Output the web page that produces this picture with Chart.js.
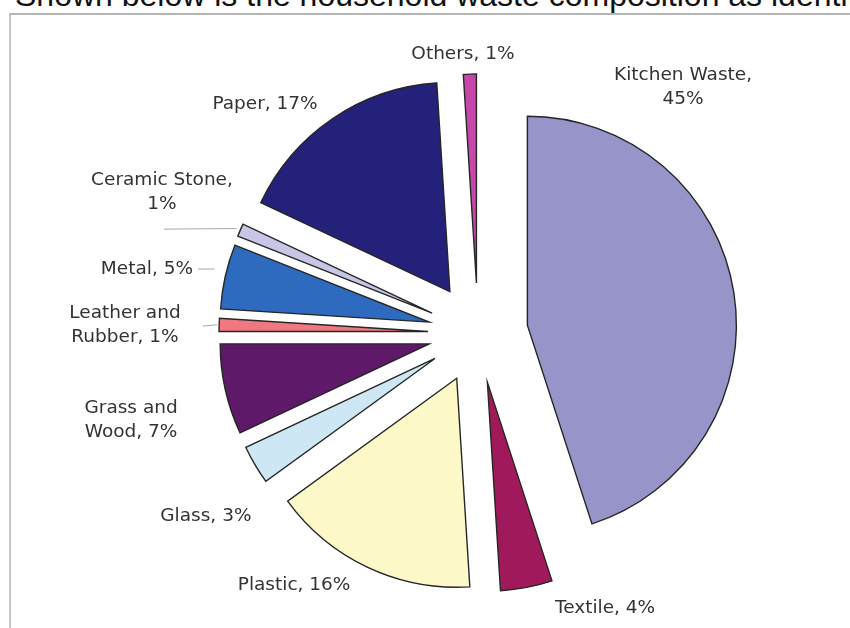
<!DOCTYPE html>
<html>
<head>
<meta charset="utf-8">
<script src="https://cdn.jsdelivr.net/npm/chart.js@4/dist/chart.umd.min.js"></script>
<style>
html,body{margin:0;padding:0;background:#fff;}
#wrap{position:relative;width:850px;height:628px;overflow:hidden;background:#fff;}
#title{position:absolute;left:15px;top:-21px;font-size:32px;line-height:32px;font-family:"Liberation Sans",Arial,sans-serif;color:#111;white-space:nowrap;}
#frame{position:absolute;left:9px;top:13px;width:860px;height:640px;border-top:2px solid #b4b4b4;border-left:2px solid #c6c6c6;}
canvas{position:absolute;left:0;top:0;}
</style>
</head>
<body>
<div id="wrap">
  <div id="title">Shown below is the household waste composition as identified</div>
  <div id="frame"></div>
  <canvas id="c" width="850" height="628"></canvas>
</div>
<script>
// ---- data ----
const categories = ['Kitchen Waste', 'Textile', 'Plastic', 'Glass', 'Grass and Wood',
                    'Leather and Rubber', 'Metal', 'Ceramic Stone', 'Paper', 'Others'];
const shares = [45, 4, 16, 3, 7, 1, 5, 1, 17, 1];

// ---- styling / placement (not data) ----
const sliceColors = ['#9694C8', '#A0195A', '#FCF8C8', '#CDE8F4', '#5E1A69',
                     '#F07880', '#2E6ABD', '#C8C6E6', '#24217A', '#C646AA'];
const wordsOnFirstLine = [2, 0, 0, 0, 2, 2, 0, 2, 0, 0];
// label centre relative to pie centre, in units of the outer radius
const labelSpots = [[0.981, -1.177], [0.608, 1.316], [-0.880, 1.206], [-1.302, 0.876], [-1.660, 0.416],
                    [-1.689, -0.038], [-1.584, -0.306], [-1.512, -0.674], [-1.019, -1.095], [-0.072, -1.335]];
// leader lines: start px from label centre, pull-back from slice edge, keep horizontal
const leaders = {7: [2, 37, -4, false], 6: [51, 0, -11, true], 5: [78, 1, -2, false]};
const EXPLODE = 50;

const explodePlugin = {
  id: 'explode',
  beforeDatasetDraw(chart, args) {
    const ctx = chart.ctx;
    args.meta.data.forEach(arc => {
      const mid = (arc.startAngle + arc.endAngle) / 2;
      ctx.save();
      ctx.translate(Math.cos(mid) * EXPLODE, Math.sin(mid) * EXPLODE);
      arc.draw(ctx, chart.chartArea);
      ctx.restore();
    });
    return false;
  }
};

function labelLines(i) {
  const words = (categories[i] + ', ' + shares[i] + '%').split(' ');
  const n = wordsOnFirstLine[i];
  if (!n) return [words.join(' ')];
  return [words.slice(0, n).join(' '), words.slice(n).join(' ')];
}

const labelPlugin = {
  id: 'sliceLabels',
  afterDatasetsDraw(chart) {
    const ctx = chart.ctx;
    const meta = chart.getDatasetMeta(0);
    ctx.save();
    ctx.font = '18.5px "DejaVu Sans", Verdana, sans-serif';
    ctx.textAlign = 'center';
    ctx.textBaseline = 'middle';
    meta.data.forEach((arc, i) => {
      const R = arc.outerRadius;
      const x = arc.x + labelSpots[i][0] * R;
      const y = arc.y + labelSpots[i][1] * R;
      const lines = labelLines(i);
      const lh = 24;
      const y0 = y - (lines.length - 1) * lh / 2;
      ctx.fillStyle = '#333';
      lines.forEach((t, k) => ctx.fillText(t, x, y0 + k * lh));
      const L = leaders[i];
      if (L) {
        const mid = (arc.startAngle + arc.endAngle) / 2;
        const d = R + EXPLODE - L[2];
        const sx = x + L[0], sy = y + L[1];
        const ex = arc.x + Math.cos(mid) * d;
        const ey = L[3] ? sy : arc.y + Math.sin(mid) * d;
        ctx.strokeStyle = '#a8a8a8';
        ctx.lineWidth = 1;
        ctx.beginPath();
        ctx.moveTo(sx, sy);
        ctx.lineTo(ex, ey);
        ctx.stroke();
      }
    });
    ctx.restore();
  }
};

new Chart(document.getElementById('c'), {
  type: 'pie',
  data: {
    labels: categories,
    datasets: [{
      data: shares,
      backgroundColor: sliceColors,
      borderColor: '#262626',
      borderWidth: 1.4,
      borderJoinStyle: 'miter',
      offset: 0,
      hoverOffset: 0,
      radius: 209
    }]
  },
  options: {
    responsive: false,
    animation: false,
    devicePixelRatio: 1,
    layout: {padding: {left: 106, right: 0, top: 38, bottom: 0}},
    plugins: {legend: {display: false}, tooltip: {enabled: false}, title: {display: false}},
    events: []
  },
  plugins: [explodePlugin, labelPlugin]
});
</script>
</body>
</html>
